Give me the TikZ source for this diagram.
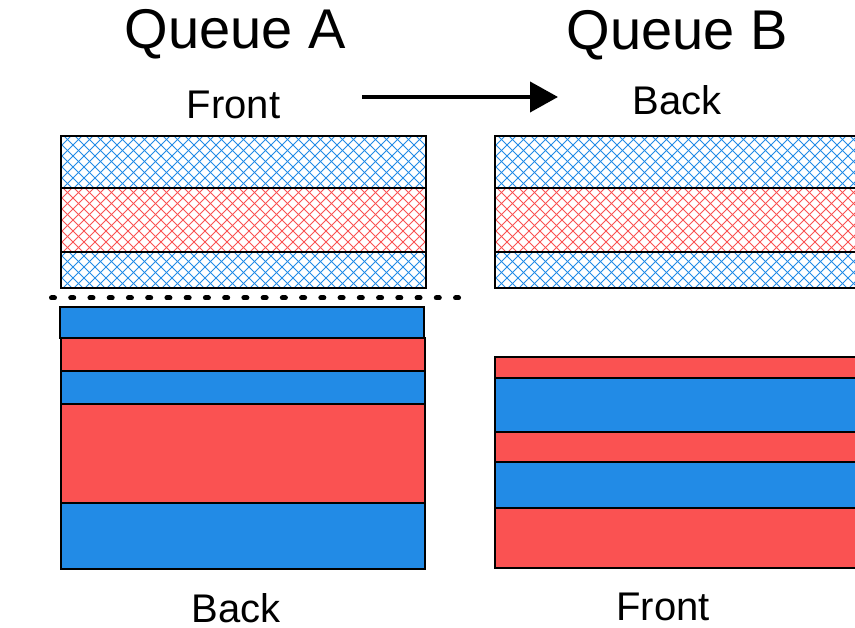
\documentclass[tikz,border=0pt]{standalone}
\usepackage{fontspec}
\setmainfont{Liberation Sans}
\usetikzlibrary{arrows.meta}

\definecolor{qblue}{HTML}{228BE6}
\definecolor{qred}{HTML}{FA5252}

\tikzset{
  boxline/.style={draw=black, line width=2.2pt},
  hatchline/.style={line width=1pt},
  title/.style={anchor=base, inner sep=0pt, font=\fontsize{56}{62}\selectfont},
  endlabel/.style={anchor=base, inner sep=0pt, font=\fontsize{40}{46}\selectfont},
  moveline/.style={line width=4pt, -{Triangle[length=28pt,width=30pt]}},
  cutdot/.style={line width=5pt, line cap=round},
}

% cross-hatched box: lower-left x, lower-left y, upper-right x, upper-right y, colour
\newcommand{\qhatchbox}[5]{%
  \begin{scope}
    \clip (#1,#2) rectangle (#3,#4);
    \foreach \k in {0,11,...,451} {
      \draw[hatchline,#5] ({#1-64+\k},#2) -- ++(64,64);
      \draw[hatchline,#5] ({#1+\k},#2) -- ++(-64,64);
    }
  \end{scope}
  \draw[boxline] (#1,#2) rectangle (#3,#4);
}
% solid box
\newcommand{\qsolidbox}[5]{%
  \draw[boxline, fill=#5] (#1,#2) rectangle (#3,#4);
}

\begin{document}
\begin{tikzpicture}[x=1pt, y=1pt]
  \clip (0,0) rectangle (855,628);
  \fill[white] (0,0) rectangle (855,628);

  % headings
  \node[title] (qa) at (235,579) {Queue A};
  \node[title] (qb) at (677,578) {Queue B};

  % end labels
  \node[endlabel] (afront) at (233.5,509) {Front};
  \node[endlabel] (bback)  at (677,513) {Back};
  \node[endlabel] (aback)  at (236,5) {Back};
  \node[endlabel] (bfront) at (663,7) {Front};

  % transfer arrow
  \coordinate (arrowstart) at (362,531);
  \coordinate (arrowend) at (558,531);
  \draw[moveline] (arrowstart) -- (arrowend);

  % queue A: items already moved (hatched)
  \qhatchbox{61}{440}{426}{492}{qblue}
  \qhatchbox{61}{376}{426}{440}{qred}
  \qhatchbox{61}{340}{426}{376}{qblue}

  % cut line
  \foreach \i in {0,...,21} {
    \draw[cutdot] ({53+\i*19.24-1.5},330) -- ({53+\i*19.24+1.5},330);
  }

  % queue A: remaining items
  \qsolidbox{60}{290}{424}{321}{qblue}
  \qsolidbox{61}{257}{425}{290}{qred}
  \qsolidbox{61}{224}{425}{257}{qblue}
  \qsolidbox{61}{125}{425}{224}{qred}
  \qsolidbox{61}{59}{425}{125}{qblue}

  % queue B: moved items (hatched)
  \qhatchbox{495}{440}{870}{492}{qblue}
  \qhatchbox{495}{376}{870}{440}{qred}
  \qhatchbox{495}{340}{870}{376}{qblue}

  % queue B: existing items
  \qsolidbox{495}{250}{870}{271}{qred}
  \qsolidbox{495}{196}{870}{250}{qblue}
  \qsolidbox{495}{166}{870}{196}{qred}
  \qsolidbox{495}{120}{870}{166}{qblue}
  \qsolidbox{495}{60}{870}{120}{qred}
\end{tikzpicture}
\end{document}
